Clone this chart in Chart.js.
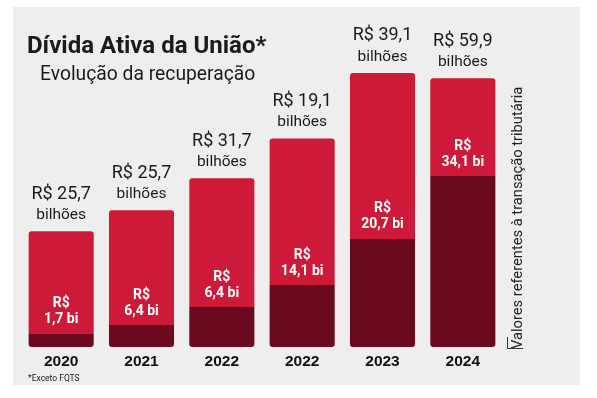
<!DOCTYPE html>
<html lang="pt-BR">
<head>
<meta charset="utf-8">
<title>Dívida Ativa da União</title>
<script src="https://cdn.jsdelivr.net/npm/chart.js@4"></script>
<style>
  body { margin: 0; background: #fff; }
  #wrap { position: relative; width: 597px; height: 398px; overflow: hidden; }
  #panel { position: absolute; left: 13px; top: 7px; width: 567px; height: 378px; background: #efeeef; }
  #chartBox { position: absolute; left: 0; top: 0; width: 597px; height: 398px; }
  .title { position: absolute; left: 27px; top: 31px; font: 700 24px Roboto, sans-serif; color: #1b1b1b; white-space: nowrap; }
  .subtitle { position: absolute; left: 40px; top: 62px; font: 400 19.3px Roboto, sans-serif; color: #1b1b1b; white-space: nowrap; }
  .foot { position: absolute; left: 28px; top: 373px; font: 400 8.5px Roboto, sans-serif; color: #222; white-space: nowrap; }
  .side { position: absolute; left: 509px; top: 349px; transform-origin: 0 0; transform: rotate(-90deg); font: 400 14.7px/16px Roboto, sans-serif; color: #222; white-space: nowrap; }
  .bracket { position: absolute; left: 507px; top: 337px; width: 15px; height: 11px; border-left: 1px solid #333; border-bottom: 1px solid #333; }
</style>
</head>
<body>
<div id="wrap">
  <div id="panel"></div>
  <div id="chartBox"><canvas id="chart"></canvas></div>
  <div class="title">Dívida Ativa da União*</div>
  <div class="subtitle">Evolução da recuperação</div>
  <div class="foot">*Exceto FQTS</div>
  <div class="side">Valores referentes à transação tributária</div>
  <div class="bracket"></div>
</div>
<script>
// years as printed under the bars (the source repeats 2022)
const years = ['2020', '2021', '2022', '2022', '2023', '2024'];

// labels printed on the graphic
const totalLabels = ['R$ 25,7', 'R$ 25,7', 'R$ 31,7', 'R$ 19,1', 'R$ 39,1', 'R$ 59,9'];
const transacaoLabels = ['1,7 bi', '6,4 bi', '6,4 bi', '14,1 bi', '20,7 bi', '34,1 bi'];

// drawn heights (the infographic is not to scale),
// in R$ bi on the 2024 bar's scale
const transacaoHeight = [2.9, 4.9, 8.9, 13.8, 24.1, 38.1];
const restoHeight = [22.9, 25.6, 28.7, 32.7, 37.0, 21.8];

const RED = '#cc1a38';
const DARK = '#6b0a1f';

const labelsPlugin = {
    id: 'barLabels',
    afterDatasetsDraw(chart) {
        const ctx = chart.ctx;
        const x = chart.scales.x;
        const darkMeta = chart.getDatasetMeta(0);
        const redMeta = chart.getDatasetMeta(1);
        ctx.save();
        ctx.textAlign = 'center';
        ctx.textBaseline = 'middle';
        years.forEach(function(year, i) {
            const cx = x.getPixelForValue(i);
            const darkTop = darkMeta.data[i].y;
            const top = redMeta.data[i].y;
            const bottom = darkMeta.data[i].base;

            ctx.fillStyle = '#ffffff';
            ctx.font = '700 14px Roboto, sans-serif';
            ctx.fillText('R$', cx, darkTop - 30);
            ctx.fillText(transacaoLabels[i], cx, darkTop - 14);

            ctx.fillStyle = '#1b1b1b';
            ctx.font = '400 18px Roboto, sans-serif';
            ctx.fillText(totalLabels[i], cx, top - 37);
            ctx.font = '400 15.5px Roboto, sans-serif';
            ctx.fillText('bilhões', cx, top - 16);

            ctx.fillStyle = '#111111';
            ctx.font = '700 15.5px "Liberation Sans", Arial, sans-serif';
            ctx.fillText(year, cx, bottom + 15);
        });
        ctx.restore();
    }
};

const ctx = document.getElementById('chart').getContext('2d');
const chart = new Chart(ctx, {
    type: 'bar',
    data: {
        labels: years,
        datasets: [{
            label: 'Transação tributária',
            data: transacaoHeight,
            backgroundColor: DARK,
            borderWidth: 0,
            borderSkipped: false,
            borderRadius: { topLeft: 0, topRight: 0, bottomLeft: 3, bottomRight: 3 }
        }, {
            label: 'Demais recuperações',
            data: restoHeight,
            backgroundColor: RED,
            borderWidth: 0,
            borderSkipped: false,
            borderRadius: { topLeft: 3, topRight: 3, bottomLeft: 0, bottomRight: 0 }
        }]
    },
    options: {
        responsive: true,
        maintainAspectRatio: false,
        animation: false,
        layout: {
            padding: { left: 21, right: 94, top: 33, bottom: 51 }
        },
        datasets: {
            bar: { categoryPercentage: 1, barPercentage: 0.81 }
        },
        plugins: {
            legend: { display: false },
            tooltip: { enabled: false }
        },
        scales: {
            x: { stacked: true, display: false },
            y: { stacked: true, display: false, min: 0, max: 70 }
        }
    },
    plugins: [labelsPlugin]
});
</script>
</body>
</html>
